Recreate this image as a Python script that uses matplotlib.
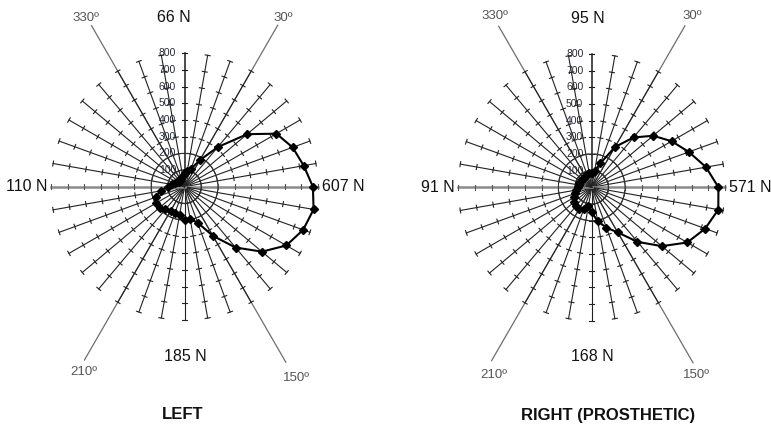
import matplotlib

matplotlib.use("Agg")
import matplotlib.pyplot as plt
import numpy as np
from matplotlib.transforms import offset_copy

plt.rcParams["font.family"] = ["Liberation Sans", "DejaVu Sans"]

# direction of the resultant force, degrees clockwise from the top
angles_deg = list(range(0, 360, 10))

left_force = [80, 98, 115, 183, 310, 490, 636, 690, 726, 770, 786, 757,
              705, 606, 476, 340, 229, 197, 200, 172, 165, 165, 178, 195,
              200, 185, 145, 100, 78, 62, 52, 46, 45, 50, 56, 66]
right_force = [88, 100, 154, 279, 390, 481, 553, 620, 696, 760, 771, 724,
               662, 549, 427, 312, 258, 206, 150, 115, 140, 150, 150, 140,
               120, 108, 95, 85, 80, 78, 75, 75, 75, 78, 80, 85]

ring_values = [100, 200, 300, 400, 500, 600, 700, 800]
ring_labels = ["100", "200", "300", "400", "500", "600", "700", "800"]
inner_circles = [100, 200]

guide_angles = [330, 30, 210, 150]
guide_lengths = [1115, 1118, 1200, 1215]
guide_labels = ["330º", "30º", "210º", "150º"]

left_caps = ["66 N", "607 N", "185 N", "110 N"]
right_caps = ["95 N", "571 N", "168 N", "91 N"]

FIG_W, FIG_H = 771, 426
PX_PER_UNIT = 133.4 / 800
R_MAX = 1300
TICK_HALF = 15


def make_axes(fig, cx, cy):
    rpx = R_MAX * PX_PER_UNIT
    ax = fig.add_axes(
        [(cx - rpx) / FIG_W, (FIG_H - cy - rpx) / FIG_H, 2 * rpx / FIG_W, 2 * rpx / FIG_H],
        projection="polar",
    )
    ax.set_theta_zero_location("N")
    ax.set_theta_direction(-1)
    ax.set_ylim(0, R_MAX)
    ax.set_facecolor("none")
    ax.set_axis_off()
    return ax


def text_at(ax, fig, dx, dy, s, **kw):
    tr = offset_copy(ax.transData, fig=fig, x=dx, y=dy, units="dots")
    ax.text(0, 0, s, transform=tr, ha="center", va="center", **kw)


def draw_chart(fig, ax, values, caps, cap_offsets, guide_offsets, title, title_dx):
    # spokes with cross ticks
    for a in angles_deg:
        th = np.deg2rad(a)
        if a in (90, 270):
            ax.plot([th, th], [0, 800], color="#8a8a8a", lw=1.8, zorder=2)
            col = "#555555"
        elif a == 0:
            ax.plot([th, th], [0, 800], color="#1a1a1a", lw=1.1, zorder=2)
            col = "#1a1a1a"
        else:
            ax.plot([th, th], [0, 800], color="#222222", lw=0.8, zorder=2)
            col = "#222222"
        for r in ring_values:
            d = np.arctan(TICK_HALF / r)
            rr = np.hypot(r, TICK_HALF)
            ax.plot([th - d, th + d], [rr, rr], color=col, lw=0.8, zorder=2)

    circ = np.linspace(0, 2 * np.pi, 240)
    for r in inner_circles:
        ax.plot(circ, np.full_like(circ, r), color="#333333", lw=0.7, zorder=2)

    # long guide lines at 30/150/210/330
    for a, length in zip(guide_angles, guide_lengths):
        th = np.deg2rad(a)
        ax.plot([th, th], [0, length], color="#6e6e6e", lw=0.9, zorder=1)

    for r, lab in zip(ring_values, ring_labels):
        tr = offset_copy(ax.transData, fig=fig, x=-17, y=0, units="dots")
        ax.text(0, r, lab, transform=tr, ha="center", va="center",
                fontsize=7.5, color="#262a36", zorder=1)

    th = np.deg2rad(angles_deg + [angles_deg[0]])
    vals = values + [values[0]]
    ax.plot(th, vals, color="black", lw=1.5, marker="D", ms=4.2,
            markerfacecolor="black", zorder=5)

    for s, (dx, dy) in zip(caps, cap_offsets):
        text_at(ax, fig, dx, dy, s, fontsize=11.5, color="#111111")
    for s, (dx, dy) in zip(guide_labels, guide_offsets):
        text_at(ax, fig, dx, dy, s, fontsize=9.5, color="#555555")
    text_at(ax, fig, title_dx, -228, title, fontsize=12, fontweight="bold", color="#111111")


def main():
    fig = plt.figure(figsize=(FIG_W / 100, FIG_H / 100), dpi=100)
    fig.patch.set_facecolor("white")

    ax_l = make_axes(fig, 184.5, 186.7)
    draw_chart(
        fig, ax_l, left_force, left_caps,
        [(-10.5, 169), (158.5, 0), (0.5, -170), (-158, 0)],
        [(-99, 169), (98.5, 169), (-101, -185), (111.5, -191)],
        "LEFT", -2,
    )

    ax_r = make_axes(fig, 591.7, 187.3)
    draw_chart(
        fig, ax_r, right_force, right_caps,
        [(-4, 169), (159, 0), (0.3, -169.5), (-154, 0)],
        [(-96.7, 171), (100.8, 171), (-97.7, -188), (104.8, -188)],
        "RIGHT (PROSTHETIC)", 16.3,
    )

    fig.savefig("out.png", dpi=100)
    plt.close(fig)


if __name__ == "__main__":
    main()
